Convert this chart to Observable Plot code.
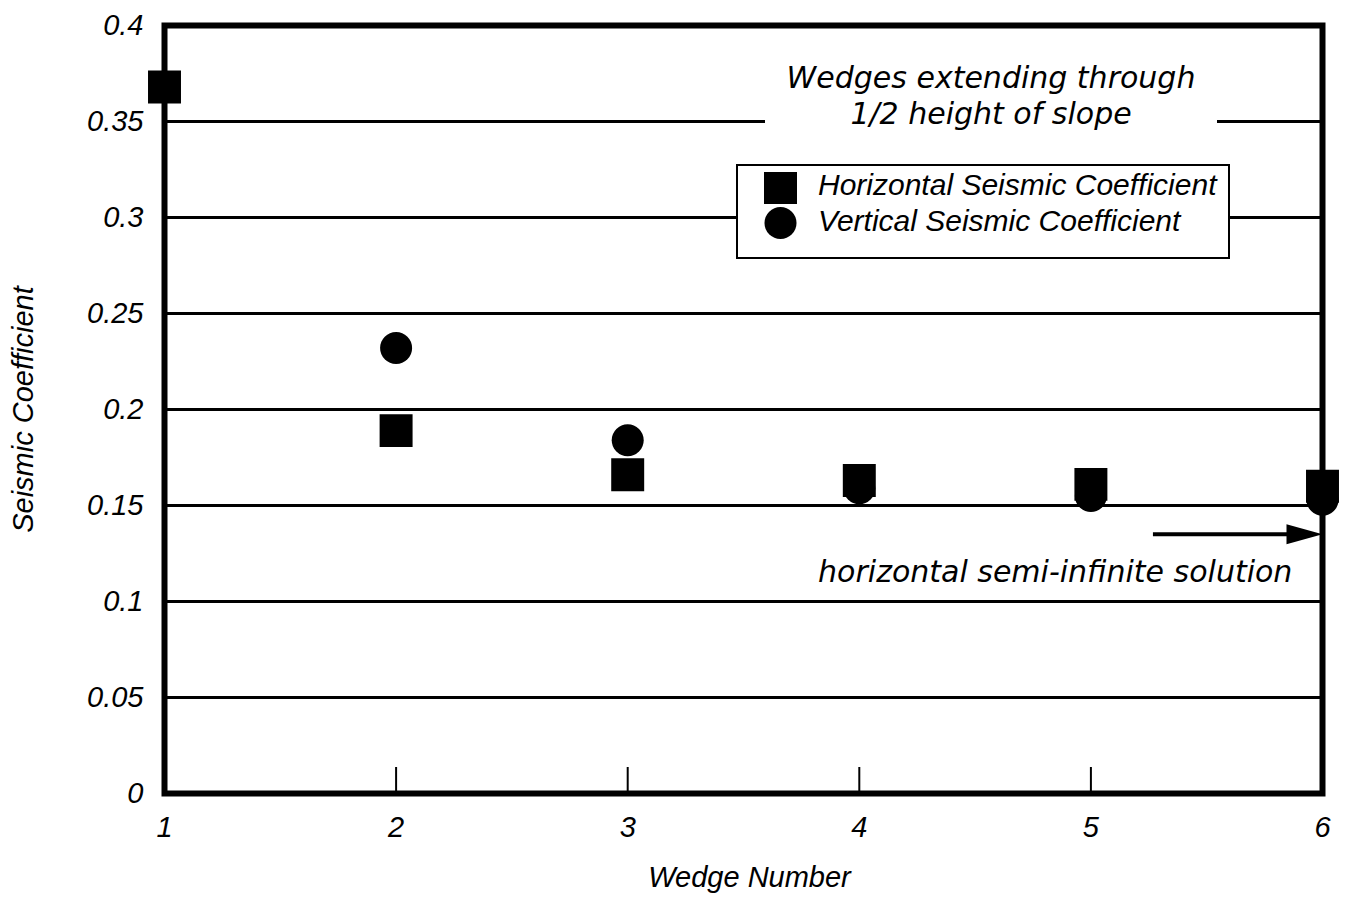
<!DOCTYPE html>
<html>
<head>
<meta charset="utf-8">
<script src="https://cdn.jsdelivr.net/npm/d3@7"></script>
<script src="https://cdn.jsdelivr.net/npm/@observablehq/plot@0.6"></script>
<style>
  body { margin: 0; background: #fff; }
  #chart { position: relative; width: 1355px; height: 900px; }
  #chart svg.plot { position: absolute; left: 0; top: 0; }
  .note {
    position: absolute; background: #fff; color: #000; text-align: center;
    font-family: "DejaVu Sans", sans-serif; font-style: italic; font-size: 30px; line-height: 36px;
  }
  .legend {
    position: absolute; background: #fff; border: 2px solid #000; box-sizing: border-box;
    font-family: "Liberation Sans", Arial, sans-serif; font-style: italic; font-size: 30px; color: #000;
  }
  .legend .item { position: absolute; left: 80px; white-space: nowrap; }
</style>
</head>
<body>
<div id="chart"></div>
<script>
// Seismic coefficient for each wedge (wedges extending through 1/2 height of slope)
const wedges = [1, 2, 3, 4, 5, 6];
const horizontal = [0.368, 0.189, 0.166, 0.163, 0.161, 0.160];
const vertical = [null, 0.232, 0.184, 0.159, 0.155, 0.153];
// horizontal semi-infinite solution, marked by the arrow on the right edge
const semiInfinite = 0.135;

const seriesNames = ["Horizontal Seismic Coefficient", "Vertical Seismic Coefficient"];
const yTicks = [0, 0.05, 0.1, 0.15, 0.2, 0.25, 0.3, 0.35, 0.4];
const yTickLabels = ["0", "0.05", "0.1", "0.15", "0.2", "0.25", "0.3", "0.35", "0.4"];
const xTickLabels = ["1", "2", "3", "4", "5", "6"];

const hData = wedges.map((w, i) => ({wedge: w, value: horizontal[i]}));
const vData = wedges.map((w, i) => ({wedge: w, value: vertical[i]})).filter(d => d.value != null);

// filled, elongated arrowhead with its tip at the symbol origin
const arrowHead = {
  draw(context) {
    context.moveTo(0, 0);
    context.lineTo(-36, -10);
    context.lineTo(-36, 10);
    context.closePath();
  }
};

const axisFont = '"Liberation Sans", Arial, sans-serif';
const noteFont = '"DejaVu Sans", sans-serif';

const chart = Plot.plot({
  width: 1355,
  height: 900,
  marginLeft: 164,
  marginRight: 33,
  marginTop: 25,
  marginBottom: 107,
  x: {domain: [1, 6]},
  y: {domain: [0, 0.4]},
  style: {background: "#fff", color: "#000", fontFamily: axisFont, fontSize: "30px", fontStyle: "italic"},
  marks: [
    // horizontal grid lines; the 0.35 line is interrupted by the note box
    Plot.ruleY(yTicks.slice(1, -1), {stroke: "#000", strokeWidth: 3}),
    Plot.frame({stroke: "#000", strokeWidth: 6}),
    // short upward ticks at the inner wedge numbers
    Plot.axisX(wedges.slice(1, -1), {tickSize: -26, strokeWidth: 2, tickFormat: () => "", label: null}),
    Plot.axisX(wedges, {tickSize: 0, tickPadding: 23, fontSize: 29, tickFormat: d => xTickLabels[wedges.indexOf(d)], label: null}),
    Plot.axisY(yTicks, {tickSize: 0, tickPadding: 21, fontSize: 29, tickFormat: d => yTickLabels[yTicks.indexOf(d)], label: null}),
    Plot.text(["Seismic Coefficient"], {
      frameAnchor: "left", textAnchor: "middle", rotate: -90, dx: -141,
      fontFamily: axisFont, fontSize: 29, fontStyle: "italic"
    }),
    Plot.text(["Wedge Number"], {
      frameAnchor: "bottom", lineAnchor: "bottom", dy: 93, dx: 6,
      fontFamily: axisFont, fontSize: 29, fontStyle: "italic"
    }),
    // data
    Plot.dot(vData, {x: "wedge", y: "value", symbol: "circle", r: 16, fill: "#000", stroke: "none"}),
    Plot.dot(hData, {x: "wedge", y: "value", symbol: "square", r: 18.6, fill: "#000", stroke: "none"}),
    // semi-infinite solution arrow and label
    Plot.ruleY([semiInfinite], {x1: 5.27, x2: 5.9, stroke: "#000", strokeWidth: 4}),
    Plot.dot([semiInfinite], {x: 6, y: d => d, symbol: arrowHead, fill: "#000", stroke: "none"}),
    Plot.text(["horizontal semi-infinite solution"], {
      x: 5.87, y: 0.115, textAnchor: "end", fontFamily: noteFont, fontSize: 30, fontStyle: "italic"
    })
  ]
});

const root = document.getElementById("chart");
root.appendChild(chart);

// note above the legend, on a white box that hides the grid line behind it
const note = document.createElement("div");
note.className = "note";
Object.assign(note.style, {left: "765px", top: "60px", width: "452px", height: "76px"});
note.innerHTML = "Wedges extending through<br>1/2 height of slope";
root.appendChild(note);

// legend box
const legend = d3.select(root).append("div").attr("class", "legend")
  .style("left", "736px").style("top", "164px").style("width", "494px").style("height", "95px");
const sw = legend.append("svg").attr("width", 60).attr("height", 90)
  .style("position", "absolute").style("left", "0px").style("top", "0px");
sw.append("rect").attr("x", 26).attr("y", 6).attr("width", 33).attr("height", 32).attr("fill", "#000");
sw.append("circle").attr("cx", 42.5).attr("cy", 57).attr("r", 16).attr("fill", "#000");
legend.selectAll("div.item").data(seriesNames).join("div").attr("class", "item")
  .style("top", (d, i) => (i === 0 ? 2 : 38) + "px")
  .text(d => d);
</script>
</body>
</html>
